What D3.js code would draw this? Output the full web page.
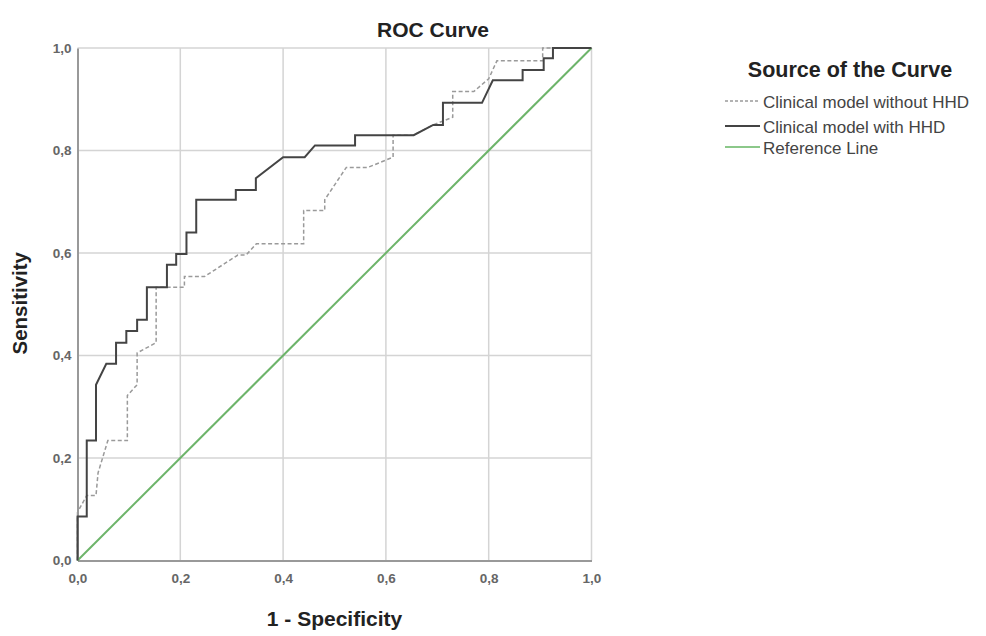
<!DOCTYPE html>
<html><head><meta charset="utf-8">
<script src="https://cdn.jsdelivr.net/npm/d3@7"></script>
<style>body{margin:0;background:#fff;}svg{display:block;font-family:"Liberation Sans",Arial,sans-serif;}</style>
</head><body>
<svg id="c" width="986" height="636"></svg>
<script>
const tickValues = [0, 0.2, 0.4, 0.6, 0.8, 1.0];
const tickLabels = ["0,0", "0,2", "0,4", "0,6", "0,8", "1,0"];
const seriesNames = ["Clinical model without HHD", "Clinical model with HHD", "Reference Line"];
const withoutHHD = [[0,0],[0,0.094],[0.018,0.127],[0.036,0.127],[0.04,0.171],[0.059,0.234],[0.097,0.234],[0.097,0.322],[0.116,0.343],[0.116,0.405],[0.153,0.425],[0.153,0.533],[0.208,0.533],[0.208,0.554],[0.247,0.554],[0.312,0.596],[0.328,0.596],[0.348,0.618],[0.44,0.618],[0.44,0.683],[0.481,0.683],[0.481,0.704],[0.523,0.767],[0.565,0.767],[0.614,0.787],[0.614,0.83],[0.654,0.83],[0.692,0.85],[0.73,0.865],[0.73,0.915],[0.771,0.915],[0.8,0.94],[0.816,0.975],[0.905,0.975],[0.905,1],[1,1]];
const withHHD = [[0,0],[0,0.086],[0.018,0.086],[0.018,0.234],[0.036,0.234],[0.036,0.343],[0.056,0.384],[0.075,0.384],[0.075,0.425],[0.095,0.425],[0.095,0.448],[0.116,0.448],[0.116,0.47],[0.135,0.47],[0.135,0.533],[0.174,0.533],[0.174,0.577],[0.192,0.577],[0.192,0.598],[0.212,0.598],[0.212,0.64],[0.231,0.64],[0.231,0.704],[0.308,0.704],[0.308,0.723],[0.347,0.723],[0.347,0.746],[0.4,0.787],[0.442,0.787],[0.462,0.81],[0.54,0.81],[0.54,0.83],[0.654,0.83],[0.692,0.85],[0.711,0.85],[0.711,0.893],[0.787,0.893],[0.808,0.937],[0.866,0.937],[0.866,0.957],[0.907,0.957],[0.907,0.98],[0.925,0.98],[0.925,1.0],[1,1]];
const referenceLine = [[0,0],[1,1]];

const svg = d3.select("#c");
const x = d3.scaleLinear().domain([0,1]).range([77.5, 591.5]);
const y = d3.scaleLinear().domain([0,1]).range([560.5, 48]);

// grid
const g = svg.append("g");
g.selectAll(".vg").data(tickValues.slice(1)).enter().append("line")
  .attr("x1", d=>x(d)).attr("x2", d=>x(d)).attr("y1", y(0)).attr("y2", y(1))
  .attr("stroke", "#d4d4d4").attr("stroke-width", 1.5);
g.selectAll(".hg").data(tickValues.slice(1)).enter().append("line")
  .attr("x1", x(0)).attr("x2", x(1)).attr("y1", d=>y(d)).attr("y2", d=>y(d))
  .attr("stroke", "#d4d4d4").attr("stroke-width", 1.5);

// axes
const xAxis = d3.axisBottom(x).tickValues(tickValues).tickFormat((d,i)=>tickLabels[i]).tickSize(0).tickPadding(13);
const yAxis = d3.axisLeft(y).tickValues(tickValues).tickFormat((d,i)=>tickLabels[i]).tickSize(0).tickPadding(6);
const xa = svg.append("g").attr("transform", `translate(0,${y(0)})`).call(xAxis);
const ya = svg.append("g").attr("transform", `translate(${x(0)},0)`).call(yAxis);
[xa, ya].forEach(a => {
  a.select(".domain").attr("stroke", "#999").attr("stroke-width", 2);
  a.selectAll("text").attr("fill", "#666").attr("font-size", 13.5).attr("font-weight", "bold")
    .attr("font-family", "Liberation Sans, Arial, sans-serif");
});

// lines
const line = d3.line().x(d=>x(d[0])).y(d=>y(d[1]));
svg.append("path").datum(referenceLine).attr("d", line).attr("fill","none").attr("stroke","#6db46a").attr("stroke-width",2);
svg.append("path").datum(withoutHHD).attr("d", line).attr("fill","none").attr("stroke","#9a9a9a").attr("stroke-width",1.5).attr("stroke-dasharray","4,2.5");
svg.append("path").datum(withHHD).attr("d", line).attr("fill","none").attr("stroke","#444").attr("stroke-width",2);

// titles
svg.append("text").attr("x", 433).attr("y", 37).attr("text-anchor","middle").attr("font-size",21).attr("font-weight","bold").attr("fill","#222").text("ROC Curve");
svg.append("text").attr("x", x(0.5)).attr("y", 626).attr("text-anchor","middle").attr("font-size",21).attr("font-weight","bold").attr("fill","#222").text("1 - Specificity");
svg.append("text").attr("transform", `translate(27,${y(0.5)-1}) rotate(-90)`).attr("text-anchor","middle").attr("font-size",20.5).attr("font-weight","bold").attr("fill","#222").text("Sensitivity");

// legend
const lg = svg.append("g");
lg.append("text").attr("x", 850).attr("y", 77).attr("text-anchor","middle").attr("font-size",21.5).attr("font-weight","bold").attr("fill","#222").text("Source of the Curve");
const legStyles = [
  {stroke:"#9a9a9a", w:1.5, dash:"3,2"},
  {stroke:"#444", w:2, dash:null},
  {stroke:"#8cc88a", w:2, dash:null}
];
const legY = [108, 133, 154];
seriesNames.forEach((name,i)=>{
  const l = lg.append("line").attr("x1",725).attr("x2",760).attr("y1",legY[i]-7).attr("y2",legY[i]-7)
    .attr("stroke",legStyles[i].stroke).attr("stroke-width",legStyles[i].w);
  if (legStyles[i].dash) l.attr("stroke-dasharray", legStyles[i].dash);
  lg.append("text").attr("x",763).attr("y",legY[i]).attr("font-size",17).attr("fill","#444").text(name);
});
</script>
</body></html>
